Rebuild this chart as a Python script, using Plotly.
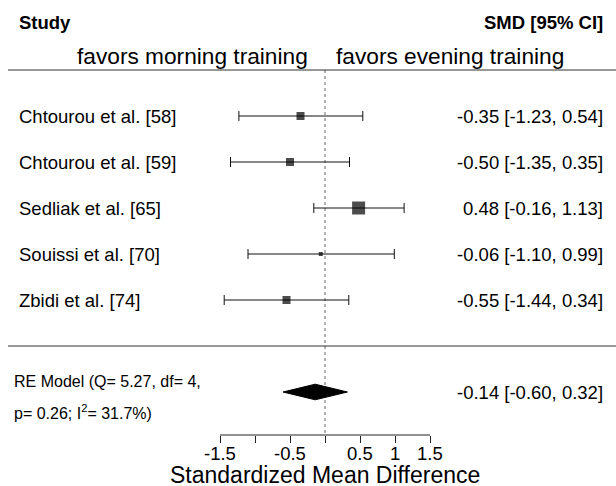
import plotly.graph_objects as go

# ---- data ----
studies = ["Chtourou et al. [58]", "Chtourou et al. [59]", "Sedliak et al. [65]",
           "Souissi et al. [70]", "Zbidi et al. [74]"]
smd = [-0.35, -0.50, 0.48, -0.06, -0.55]
ci_low = [-1.23, -1.35, -0.16, -1.10, -1.44]
ci_high = [0.54, 0.35, 1.13, 0.99, 0.34]
re_est, re_low, re_high = -0.14, -0.60, 0.32
re_q, re_df, re_p, re_i2 = 5.27, 4, 0.26, 31.7
tick_vals = [-1.5, -1, -0.5, 0, 0.5, 1, 1.5]
label_ticks = [-1.5, -0.5, 0.5, 1, 1.5]
label_text = ["-1.5", "-0.5", "0.5", "1", "1.5"]

# ---- style ----
box_px = [8, 8, 13, 4, 8]
FONT = "Liberation Sans, Arial, sans-serif"
W, H = 616, 486
X0PX, PXU = 325, 70          # pixel of zero, pixels per unit
ROWPX = 46
xr = [(0 - X0PX) / PXU, (W - X0PX) / PXU]
plot_bottom_px = 435
yr = [(300 - plot_bottom_px) / ROWPX, 300 / ROWPX]

n = len(studies)
rows = list(range(n - 1, -1, -1))  # top study highest

fig = go.Figure()

# dotted reference line at 0
fig.add_trace(go.Scatter(x=[0, 0], y=[5, yr[0]], mode="lines",
                         line=dict(color="#666", width=1, dash="dot"),
                         hoverinfo="skip", showlegend=False))

# study CIs and boxes
fig.add_trace(go.Scatter(
    x=smd, y=rows, mode="markers",
    marker=dict(symbol="square", size=box_px, color="black", line=dict(width=0)),
    error_x=dict(type="data", symmetric=False,
                 array=[h - e for h, e in zip(ci_high, smd)],
                 arrayminus=[e - l for e, l in zip(smd, ci_low)],
                 color="#111", thickness=1, width=5),
    showlegend=False, hoverinfo="skip"))

# summary diamond
dh = 0.17
re_row = -2
fig.add_trace(go.Scatter(
    x=[re_low, re_est, re_high, re_est, re_low],
    y=[re_row, re_row + dh, re_row, re_row - dh, re_row],
    mode="lines", fill="toself", fillcolor="black",
    line=dict(color="black", width=1), showlegend=False, hoverinfo="skip"))

ann = []
left_x = (17 - X0PX) / PXU
right_x = (605 - X0PX) / PXU
for s, r, e, l, h in zip(studies, rows, smd, ci_low, ci_high):
    ann.append(dict(x=left_x, y=r, text=s, xanchor="left", yanchor="middle",
                    showarrow=False, font=dict(size=18.5)))
    ann.append(dict(x=right_x, y=r, text=f"{e:.2f} [{l:.2f}, {h:.2f}]",
                    xanchor="right", yanchor="middle", showarrow=False,
                    font=dict(size=18.5)))

ann.append(dict(x=right_x, y=re_row, text=f"{re_est:.2f} [{re_low:.2f}, {re_high:.2f}]",
                xanchor="right", yanchor="middle", showarrow=False, font=dict(size=18.5)))
re_left = (12 - X0PX) / PXU
ann.append(dict(x=re_left, y=(300 - 381) / ROWPX, text=f"RE Model (Q= {re_q:.2f}, df= {re_df},",
                xanchor="left", yanchor="middle", showarrow=False, font=dict(size=16)))
ann.append(dict(x=re_left, y=(300 - 412) / ROWPX,
                text=f"p= {re_p:.2f}; I<sup>2</sup>= {re_i2:.1f}%)",
                xanchor="left", yanchor="middle", showarrow=False, font=dict(size=16)))

# headers
ann.append(dict(x=left_x, y=(300 - 22.5) / ROWPX, text="<b>Study</b>", xanchor="left",
                yanchor="middle", showarrow=False, font=dict(size=18.5)))
ann.append(dict(x=right_x, y=(300 - 22.5) / ROWPX, text="<b>SMD [95% CI]</b>", xanchor="right",
                yanchor="middle", showarrow=False, font=dict(size=18.5)))
fav_y = (300 - 56) / ROWPX
ann.append(dict(x=0, y=fav_y, text="favors morning training", xanchor="right", xshift=-15,
                yanchor="middle", showarrow=False, font=dict(size=22.7)))
ann.append(dict(x=0, y=fav_y, text="favors evening training", xanchor="left", xshift=9,
                yanchor="middle", showarrow=False, font=dict(size=22.7)))

# tick labels placed on the x scale below the tick marks
for v, t in zip(label_ticks, label_text):
    ann.append(dict(x=v, y=0, yref="paper", yshift=-(453 - plot_bottom_px), text=t,
                    xanchor="center", yanchor="middle", showarrow=False, font=dict(size=18.5)))
# axis title centred on zero
ann.append(dict(x=0, y=0, yref="paper", yshift=-(475 - plot_bottom_px), text="Standardized Mean Difference",
                xanchor="center", yanchor="middle", showarrow=False, font=dict(size=23)))

shapes = [
    dict(type="line", xref="paper", yref="y", x0=8 / W, x1=1, y0=5, y1=5,
         line=dict(color="#333", width=1)),
    dict(type="line", xref="paper", yref="y", x0=8 / W, x1=1, y0=-1, y1=-1,
         line=dict(color="#333", width=1)),
    dict(type="line", xref="x", yref="paper", x0=tick_vals[0], x1=tick_vals[-1], y0=0, y1=0,
         line=dict(color="#222", width=1)),
]

fig.update_layout(
    width=W, height=H, margin=dict(l=0, r=0, t=0, b=H - plot_bottom_px),
    paper_bgcolor="white", plot_bgcolor="white",
    font=dict(family=FONT, color="black"),
    annotations=ann, shapes=shapes, showlegend=False,
    xaxis=dict(range=xr, tickmode="array", tickvals=tick_vals, showticklabels=False,
               ticks="outside", ticklen=7, tickcolor="#222", tickwidth=1,
               showgrid=False, zeroline=False, showline=False, fixedrange=True),
    yaxis=dict(range=yr, visible=False, showgrid=False, zeroline=False, fixedrange=True),
)

fig.write_html("out.html", config={"displayModeBar": False},
               post_script="document.body.style.margin='0';")
